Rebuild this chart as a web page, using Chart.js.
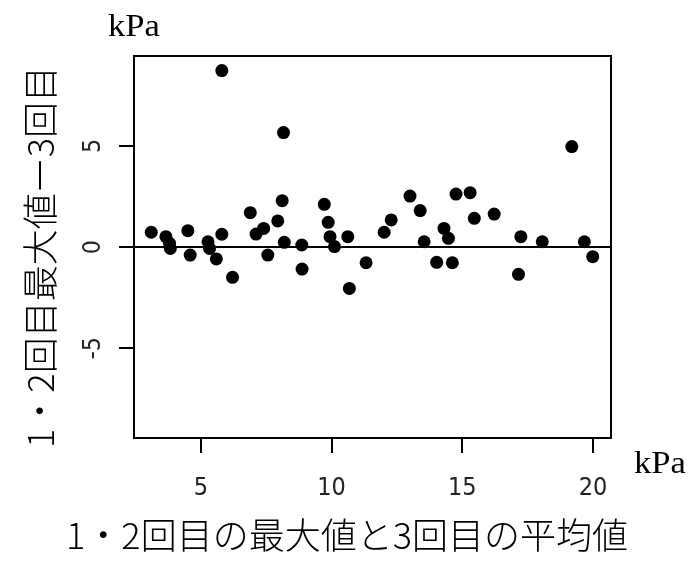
<!DOCTYPE html>
<html>
<head>
<meta charset="utf-8">
<script src="https://cdn.jsdelivr.net/npm/chart.js@4.4.0/dist/chart.umd.min.js"></script>
<style>
  body { margin: 0; background: #fff; }
</style>
</head>
<body>
<canvas id="myChart" width="689" height="566"></canvas>
<script>
// mean of the 1st/2nd max and the 3rd (kPa)
var meanValues = [3.10, 3.66, 3.80, 3.83, 4.50, 4.59, 5.27, 5.33, 5.59, 5.80, 5.80, 6.21,
  6.89, 7.11, 7.40, 7.56, 7.94, 8.11, 8.16, 8.19, 8.86, 8.87, 9.72, 9.87, 9.94, 10.11,
  10.62, 10.68, 11.32, 12.01, 12.28, 13.00, 13.39, 13.54, 14.02, 14.30, 14.47, 14.62,
  14.76, 15.30, 15.46, 16.22, 17.15, 17.24, 18.06, 19.19, 19.67, 19.99];
// difference: 1st/2nd max minus 3rd (kPa)
var diffValues = [0.73, 0.51, 0.18, -0.07, 0.81, -0.40, 0.26, -0.07, -0.59, 0.63, 8.73, -1.50,
  1.70, 0.64, 0.92, -0.40, 1.29, 2.29, 5.66, 0.23, 0.10, -1.09, 2.11, 1.22, 0.51, 0.02,
  0.51, -2.05, -0.78, 0.73, 1.34, 2.52, 1.80, 0.26, -0.76, 0.92, 0.43, -0.78,
  2.62, 2.69, 1.42, 1.63, -1.35, 0.51, 0.26, 4.97, 0.26, -0.48];

var xTicks = [5, 10, 15, 20];
var yTicks = [-5, 0, 5];
var xTitle = '1・2回目の最大値と3回目の平均値';
var yTitle = '1・2回目最大値ー3回目';
var unitLabel = 'kPa';

var points = meanValues.map(function (v, i) { return { x: v, y: diffValues[i] }; });

var numFont = '"Liberation Sans Narrow", "DejaVu Sans Condensed", sans-serif';
var jpFont = '"Noto Sans CJK JP", sans-serif';

// frame, rotated y labels and the titles
var extras = {
  id: 'extras',
  afterDraw: function (chart) {
    var ctx = chart.ctx;
    var area = chart.chartArea;
    var y = chart.scales.y;

    ctx.save();
    ctx.strokeStyle = '#000';
    ctx.lineWidth = 2;
    ctx.strokeRect(area.left, area.top, area.right - area.left, area.bottom - area.top);

    ctx.fillStyle = '#222';
    ctx.font = '25px ' + numFont;
    ctx.textAlign = 'center';
    ctx.textBaseline = 'middle';
    yTicks.forEach(function (v) {
      ctx.save();
      ctx.translate(93, y.getPixelForValue(v));
      ctx.rotate(-Math.PI / 2);
      ctx.fillText(String(v), 0, 0);
      ctx.restore();
    });

    ctx.fillStyle = '#000';
    ctx.font = '300 36px ' + jpFont;
    ctx.fillText(xTitle, 347, 535);
    ctx.save();
    ctx.translate(40, 257);
    ctx.rotate(-Math.PI / 2);
    ctx.fillText(yTitle, 0, 0);
    ctx.restore();

    ctx.font = 'normal 400 32px "Liberation Serif", "DejaVu Serif", serif';
    ctx.textBaseline = 'alphabetic';
    [[134, 36], [660, 473]].forEach(function (p) {
      ctx.save();
      ctx.translate(p[0], p[1]);
      ctx.scale(1.08, 1);
      ctx.fillText(unitLabel, 0, 0);
      ctx.restore();
    });
    ctx.restore();
  }
};

var ctx = document.getElementById('myChart').getContext('2d');
var chart = new Chart(ctx, {
  type: 'scatter',
  data: {
    datasets: [{
      data: points,
      backgroundColor: '#000',
      borderWidth: 0,
      pointRadius: 6.5,
      pointHoverRadius: 6.5
    }]
  },
  options: {
    responsive: false,
    animation: false,
    layout: { padding: { top: 56, right: 78, left: 0, bottom: 0 } },
    plugins: {
      legend: { display: false },
      tooltip: { enabled: false }
    },
    scales: {
      x: {
        type: 'linear',
        min: 2.44,
        max: 20.69,
        afterBuildTicks: function (scale) {
          scale.ticks = xTicks.map(function (v) { return { value: v }; });
        },
        afterFit: function (scale) { scale.height = 128; },
        border: { display: false },
        grid: { drawOnChartArea: false, tickColor: '#000', lineWidth: 2, tickLength: 15 },
        ticks: { color: '#222', padding: 20, font: { size: 25, family: numFont }, maxRotation: 0 }
      },
      y: {
        type: 'linear',
        min: -9.45,
        max: 9.45,
        afterBuildTicks: function (scale) {
          scale.ticks = yTicks.map(function (v) { return { value: v }; });
        },
        afterFit: function (scale) { scale.width = 134; },
        border: { display: false },
        grid: {
          color: function (c) { return c.tick && c.tick.value === 0 ? '#000' : 'rgba(0,0,0,0)'; },
          tickColor: '#000',
          lineWidth: 2,
          tickLength: 15
        },
        ticks: { color: 'rgba(0,0,0,0)', font: { size: 25, family: numFont } }
      }
    }
  },
  plugins: [extras]
});
</script>
</body>
</html>
